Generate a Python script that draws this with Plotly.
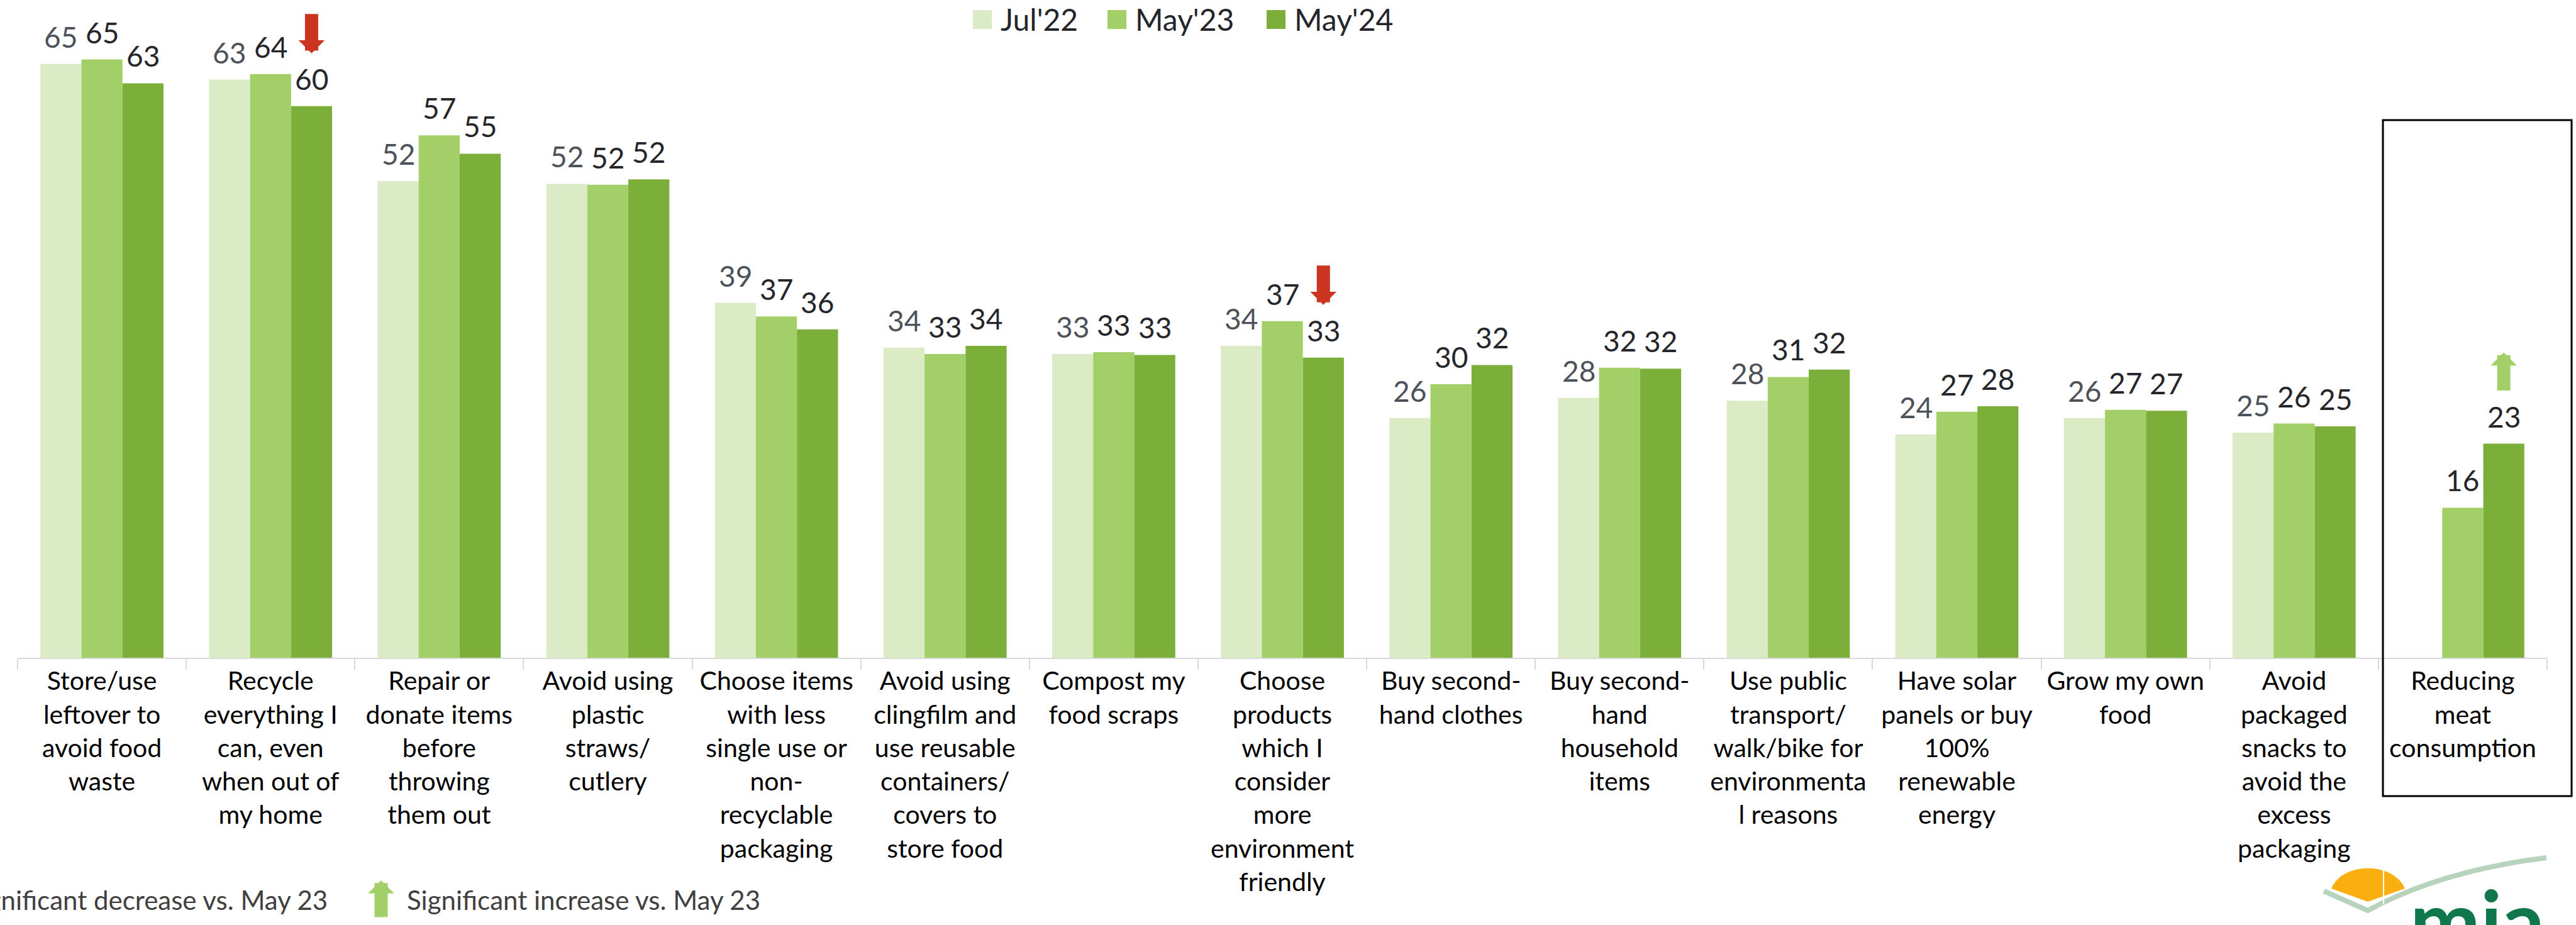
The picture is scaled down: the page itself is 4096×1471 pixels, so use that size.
import plotly.graph_objects as go

# ---------------- data ----------------
categories = [
    "Store/use<br>leftover to<br>avoid food<br>waste",
    "Recycle<br>everything I<br>can, even<br>when out of<br>my home",
    "Repair or<br>donate items<br>before<br>throwing<br>them out",
    "Avoid using<br>plastic<br>straws/<br>cutlery",
    "Choose items<br>with less<br>single use or<br>non-<br>recyclable<br>packaging",
    "Avoid using<br>clingfilm and<br>use reusable<br>containers/<br>covers to<br>store food",
    "Compost my<br>food scraps",
    "Choose<br>products<br>which I<br>consider<br>more<br>environment<br>friendly",
    "Buy second-<br>hand clothes",
    "Buy second-<br>hand<br>household<br>items",
    "Use public<br>transport/<br>walk/bike for<br>environmenta<br>l reasons",
    "Have solar<br>panels or buy<br>100%<br>renewable<br>energy",
    "Grow my own<br>food",
    "Avoid<br>packaged<br>snacks to<br>avoid the<br>excess<br>packaging",
    "Reducing<br>meat<br>consumption",
]
series_names = ["Jul'22", "May'23", "May'24"]
jul22 = [64.9, 63.2, 52.1, 51.8, 38.8, 33.9, 33.2, 34.1, 26.2, 28.4, 28.1, 24.4, 26.2, 24.6, None]
may23 = [65.4, 63.8, 57.1, 51.7, 37.3, 33.2, 33.4, 36.8, 29.9, 31.7, 30.7, 26.9, 27.1, 25.6, 16.4]
may24 = [62.8, 60.3, 55.1, 52.3, 35.9, 34.1, 33.1, 32.8, 32.0, 31.6, 31.5, 27.5, 27.0, 25.3, 23.4]
# significance of May'24 vs May'23
sig_may24 = ["", "down", "", "", "", "", "", "down", "", "", "", "", "", "", "up"]
footnote_down = "Significant decrease vs. May 23"
footnote_up = "Significant increase vs. May 23"

# ---------------- style ----------------
W, H = 4096, 1471
ML, MR, MT, MB = 28, 46, 0, 425
PW, PH = W - ML - MR, H - MT - MB
FONT = "Lato, 'Open Sans', sans-serif"
bar_colors = ["#DAEBC5", "#A2CF67", "#7BAF39"]
label_colors = ["#4D5159", "#25262B", "#25262B"]
RED = "#CC3422"
BARGAP = 0.27
YMAX = 71.9


def xp(X):
    return (X - ML) / PW


def yp(Y):
    return (H - MB - Y) / PH


series = [jul22, may23, may24]
fig = go.Figure()
for name, vals, col in zip(series_names, series, bar_colors):
    fig.add_trace(go.Bar(x=categories, y=vals, name=name, marker=dict(color=col, line=dict(width=0)),
                         showlegend=False, hoverinfo="skip"))

cat_w = PW / len(categories)
bar_w = cat_w * (1 - BARGAP) / 3
annotations = []
for si, vals in enumerate(series):
    for c, v in zip(categories, vals):
        if v is None:
            continue
        annotations.append(dict(
            x=c, y=v, xref="x", yref="y", text=f"{v:.0f}", showarrow=False,
            xshift=(si - 1) * bar_w, yshift=14, yanchor="bottom", xanchor="center",
            font=dict(family=FONT, size=46, color=label_colors[si])))

# significance arrows on May'24 bars
for c, v, s in zip(categories, may24, sig_may24):
    if s == "down":
        annotations.append(dict(x=c, y=v, xref="x", yref="y", text="", showarrow=True,
                                xshift=bar_w, yshift=84, ax=0, ay=-64, arrowhead=1,
                                arrowwidth=21, arrowsize=0.33, arrowcolor=RED))
    elif s == "up":
        annotations.append(dict(x=c, y=v, xref="x", yref="y", text="", showarrow=True,
                                xshift=bar_w, yshift=145, ax=0, ay=62, arrowhead=1,
                                arrowwidth=21, arrowsize=0.33, arrowcolor=bar_colors[1]))

# manual legend
shapes = []
leg_x = [1547, 1761, 2014]
for name, col, lx in zip(series_names, bar_colors, leg_x):
    shapes.append(dict(type="rect", xref="paper", yref="paper", x0=xp(lx), x1=xp(lx + 30),
                       y0=yp(46), y1=yp(16), fillcolor=col, line=dict(width=0)))
    annotations.append(dict(x=xp(lx + 42), y=yp(31), xref="paper", yref="paper", text=name,
                            showarrow=False, xanchor="left", yanchor="middle",
                            font=dict(family=FONT, size=48, color="#25262B")))

# footnotes
annotations.append(dict(x=xp(523), y=yp(1431), xref="paper", yref="paper", text=footnote_down,
                        showarrow=False, xanchor="right", yanchor="middle",
                        font=dict(family=FONT, size=42, color="#404040")))
annotations.append(dict(x=xp(606), y=yp(1400), xref="paper", yref="paper", text="", showarrow=True,
                        ax=0, ay=60, arrowhead=1, arrowwidth=21, arrowsize=0.33,
                        arrowcolor=bar_colors[1]))
annotations.append(dict(x=xp(645), y=yp(1431), xref="paper", yref="paper", text=footnote_up,
                        showarrow=False, xanchor="left", yanchor="middle",
                        font=dict(family=FONT, size=42, color="#404040")))

# highlight box around last category
shapes.append(dict(type="rect", xref="paper", yref="paper", x0=xp(3789), x1=xp(4089),
                   y0=yp(1266), y1=yp(191), line=dict(color="black", width=3),
                   fillcolor="rgba(0,0,0,0)"))

# logo
def P(X, Y):
    return f"{xp(X):.5f},{yp(Y):.5f}"

shapes.append(dict(type="path", xref="paper", yref="paper",
                   path=f"M{P(3695,1417)} L{P(3765,1448)} Q{P(3880,1385)} {P(4049,1364)}",
                   line=dict(color="#B8D3BC", width=8), fillcolor="rgba(0,0,0,0)"))
shapes.append(dict(type="path", xref="paper", yref="paper",
                   path=f"M{P(3707,1413)} C{P(3725,1370)} {P(3805,1370)} {P(3824,1413)} L{P(3765,1434)} Z",
                   line=dict(width=0), fillcolor="#F8AF0F"))
shapes.append(dict(type="line", xref="paper", yref="paper", x0=xp(3790), x1=xp(3790),
                   y0=yp(1438), y1=yp(1380), line=dict(color="white", width=2)))
annotations.append(dict(x=xp(3830), y=yp(1380), xref="paper", yref="paper", text="<b>mia</b>",
                        showarrow=False, xanchor="left", yanchor="top",
                        font=dict(family=FONT, size=134, color="#10774C")))

fig.update_layout(
    width=W, height=H,
    margin=dict(l=ML, r=MR, t=MT, b=MB, autoexpand=False),
    paper_bgcolor="white", plot_bgcolor="white",
    barmode="group", bargap=BARGAP, bargroupgap=0,
    font=dict(family=FONT, color="black"),
    xaxis=dict(type="category", showline=True, linecolor="#D9D9D9", linewidth=2,
               ticks="outside", tickson="boundaries", ticklen=17, tickcolor="#D9D9D9", tickwidth=2,
               tickangle=0, showgrid=False, tickfont=dict(family=FONT, size=41, color="black")),
    yaxis=dict(range=[0, YMAX], visible=False, showgrid=False, fixedrange=True),
    annotations=annotations, shapes=shapes, showlegend=False,
)

fig.write_html("out.html")
